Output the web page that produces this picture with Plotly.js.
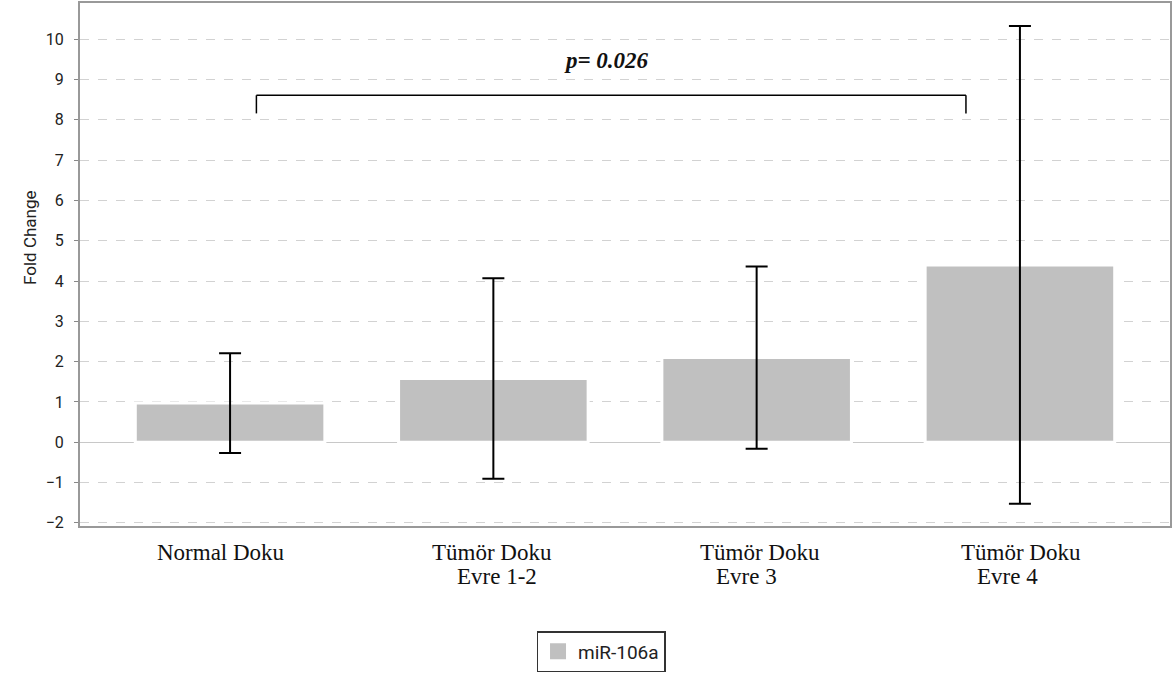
<!DOCTYPE html>
<html>
<head>
<meta charset="utf-8">
<script src="https://cdn.plot.ly/plotly-3.0.1.min.js"></script>
<style>html,body{margin:0;padding:0;background:#fff;}#chart{width:1172px;height:677px;}</style>
</head>
<body>
<div id="chart"></div>
<script>
// Data
const categories = ["Normal Doku", "Tümör Doku Evre 1-2", "Tümör Doku Evre 3", "Tümör Doku Evre 4"];
const labelLine1 = ["Normal Doku", "Tümör Doku", "Tümör Doku", "Tümör Doku"];
const labelLine2 = ["", "Evre 1-2", "Evre 3", "Evre 4"];
const foldChange = [0.97, 1.58, 2.1, 4.4];
const errorSD = [1.24, 2.49, 2.26, 5.93];
const seriesName = "miR-106a";
const yTicks = [-2, -1, 0, 1, 2, 3, 4, 5, 6, 7, 8, 9, 10];
// Significance bracket between Normal Doku and Evre 4
const bracketX = [0.1, 2.795];
const bracketY = [8.16, 8.61];
const pLabel = "p= 0.026";
const pLabelPos = [1.43, 9.48];

const xIdx = categories.map((c, i) => i);
// hand-placed label offsets (style, in category units)
const line1Shift = [-0.034, -0.005, 0.013, 0.004];
const line2Shift = [0, 0.014, -0.04, -0.049];

const barTrace = {
  type: "bar",
  x: xIdx,
  y: foldChange,
  name: seriesName,
  width: 0.72,
  marker: {color: "#c0c0c0", line: {color: "#ffffff", width: 3}},
  error_y: {type: "data", array: errorSD, visible: true, color: "#000000", thickness: 2, width: 11},
  showlegend: false
};
// legend entry only
const legendTrace = {
  type: "scatter", mode: "markers", x: [null], y: [null], name: seriesName,
  marker: {symbol: "square", size: 17, color: "#c0c0c0"}, showlegend: true, hoverinfo: "skip"
};

const serif = "Liberation Serif, serif";
const sans = "Roboto, DejaVu Sans, sans-serif";
const annotations = [
  {x: pLabelPos[0], y: pLabelPos[1], xref: "x", yref: "y", text: "<b><i>" + pLabel + "</i></b>", showarrow: false,
   font: {family: serif, size: 23, color: "#111"}},
  {x: -0.0569, y: 0.5507, xref: "paper", yref: "paper", text: "Fold Change", textangle: -90, showarrow: false,
   font: {family: sans, size: 17, color: "#222"}}
];
xIdx.forEach(i => {
  annotations.push({x: i + line1Shift[i], y: -0.0505, xref: "x", yref: "paper", yanchor: "middle", text: labelLine1[i],
    showarrow: false, font: {family: serif, size: 23, color: "#111"}});
  if (labelLine2[i]) {
    annotations.push({x: i + line2Shift[i], y: -0.0964, xref: "x", yref: "paper", yanchor: "middle", text: labelLine2[i],
      showarrow: false, font: {family: serif, size: 23, color: "#111"}});
  }
});

const layout = {
  width: 1172, height: 677,
  margin: {l: 80, r: 2, t: 3, b: 151},
  paper_bgcolor: "#ffffff", plot_bgcolor: "#ffffff",
  font: {family: sans, color: "#222"},
  xaxis: {
    range: [-0.57, 3.57],
    tickmode: "array", tickvals: xIdx, ticktext: xIdx.map(() => ""),
    ticks: "", showgrid: false, zeroline: false,
    showline: true, linecolor: "#999", linewidth: 2, mirror: true
  },
  yaxis: {
    range: [-2.08, 10.9],
    tickmode: "array", tickvals: yTicks,
    tickfont: {family: sans, size: 16, color: "#222"},
    ticks: "outside", ticklen: 4, tickcolor: "#888", tickwidth: 1, ticklabelstandoff: 7,
    showgrid: true, gridcolor: "#d2d2d2", griddash: "dash", gridwidth: 1,
    zeroline: true, zerolinecolor: "#c8c8c8", zerolinewidth: 1,
    showline: true, linecolor: "#999", linewidth: 2, mirror: true
  },
  legend: {
    orientation: "h", x: 0.478, xanchor: "center", y: -0.2008, yanchor: "top",
    bordercolor: "#333", borderwidth: 1.5,
    font: {family: sans, size: 19, color: "#222"},
    itemwidth: 30
  },
  shapes: [
    {type: "line", xref: "x", yref: "y", x0: bracketX[0], x1: bracketX[1], y0: bracketY[1], y1: bracketY[1], line: {color: "#000", width: 1.5}},
    {type: "line", xref: "x", yref: "y", x0: bracketX[0], x1: bracketX[0], y0: bracketY[0], y1: bracketY[1], line: {color: "#000", width: 1.5}},
    {type: "line", xref: "x", yref: "y", x0: bracketX[1], x1: bracketX[1], y0: bracketY[0], y1: bracketY[1], line: {color: "#000", width: 1.5}}
  ],
  annotations: annotations
};

Plotly.newPlot("chart", [barTrace, legendTrace], layout, {displayModeBar: false, staticPlot: true});
</script>
</body>
</html>
